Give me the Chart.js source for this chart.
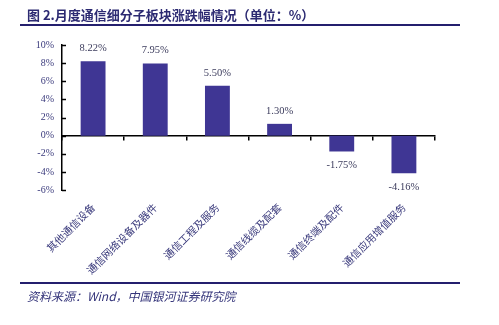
<!DOCTYPE html>
<html>
<head>
<meta charset="utf-8">
<script src="https://cdn.jsdelivr.net/npm/chart.js@4/dist/chart.umd.min.js"></script>
<style>
  body { margin: 0; background: #fff; }
  #wrap { position: relative; width: 499px; height: 325px; }
  #c { position: absolute; left: 0; top: 0; }
  .title { position: absolute; left: 27px; top: 5px; font: bold 13px "Noto Sans CJK SC", sans-serif; color: #2c2a72; white-space: nowrap; }
  .rule { position: absolute; left: 20px; width: 440px; height: 2px; background: #241f6e; }
  .src { position: absolute; left: 27px; top: 287px; font: italic 12px "Noto Sans CJK SC", sans-serif; color: #34347a; white-space: nowrap; }
</style>
</head>
<body>
<div id="wrap">
  <canvas id="c" width="499" height="325"></canvas>
  <div class="title">图 2.月度通信细分子板块涨跌幅情况（单位：%）</div>
  <div class="rule" style="top:24px"></div>
  <div class="rule" style="top:282px"></div>
  <div class="src">资料来源：Wind，中国银河证券研究院</div>
</div>
<script>
var categories = ['其他通信设备', '通信网络设备及器件', '通信工程及服务', '通信线缆及配套', '通信终端及配件', '通信应用增值服务'];
var changes = [8.22, 7.95, 5.50, 1.30, -1.75, -4.16];
var yTicks = { min: -6, max: 10, step: 2 };

var barColor = '#3f3694';
var textColor = '#3a3a7c';

// value labels above / below bars, and short inward ticks on the y axis
var extras = {
  id: 'extras',
  afterDatasetsDraw: function(chart) {
    var ctx = chart.ctx;
    var meta = chart.getDatasetMeta(0);
    ctx.save();
    ctx.font = '10.5px "Liberation Serif", "Noto Sans CJK SC", serif';
    ctx.fillStyle = '#3b3b5c';
    ctx.textAlign = 'center';
    ctx.textBaseline = 'middle';
    meta.data.forEach(function(bar, i) {
      var v = changes[i];
      var y = v >= 0 ? bar.y - 13 : bar.y + 14;
      ctx.fillText(v.toFixed(2) + '%', bar.x, y);
    });
    var ys = chart.scales.y;
    ctx.strokeStyle = '#000';
    ctx.lineWidth = 1.5;
    ys.ticks.forEach(function(t) {
      var py = Math.round(ys.getPixelForValue(t.value)) + 0.5;
      ctx.beginPath();
      ctx.moveTo(ys.right, py);
      ctx.lineTo(ys.right + 4, py);
      ctx.stroke();
    });
    ctx.restore();
  }
};

new Chart(document.getElementById('c'), {
  type: 'bar',
  data: {
    labels: categories,
    datasets: [{
      data: changes,
      backgroundColor: barColor,
      barPercentage: 0.4,
      categoryPercentage: 1
    }]
  },
  options: {
    responsive: false,
    animation: false,
    devicePixelRatio: 1,
    layout: { padding: { left: 0, right: 64, top: 45, bottom: 0 } },
    plugins: { legend: { display: false }, tooltip: { enabled: false } },
    scales: {
      x: {
        type: 'category',
        position: { y: 0 },
        offset: true,
        ticks: { display: false },
        grid: { drawOnChartArea: false, tickLength: 4, color: '#000', lineWidth: 1.5 },
        border: { color: '#000', width: 1.5 },
        afterFit: function(s) { s.height = 0; }
      },
      x2: {
        type: 'category',
        position: 'bottom',
        labels: categories,
        offset: true,
        grid: { display: false, drawTicks: false },
        border: { display: false },
        ticks: {
          autoSkip: false,
          minRotation: 45,
          maxRotation: 45,
          padding: 11,
          color: textColor,
          font: { family: '"Noto Sans CJK SC", sans-serif', size: 10.5 }
        },
        afterFit: function(s) { s.height = 135; }
      },
      y: {
        min: yTicks.min,
        max: yTicks.max,
        ticks: {
          stepSize: yTicks.step,
          padding: 8,
          color: textColor,
          font: { family: '"Liberation Serif", serif', size: 10 },
          callback: function(v) { return v + '%'; }
        },
        grid: { display: false, drawTicks: false },
        border: { color: '#000', width: 1.5 },
        afterFit: function(s) { s.width = 62; }
      }
    }
  },
  plugins: [extras]
});
</script>
</body>
</html>
